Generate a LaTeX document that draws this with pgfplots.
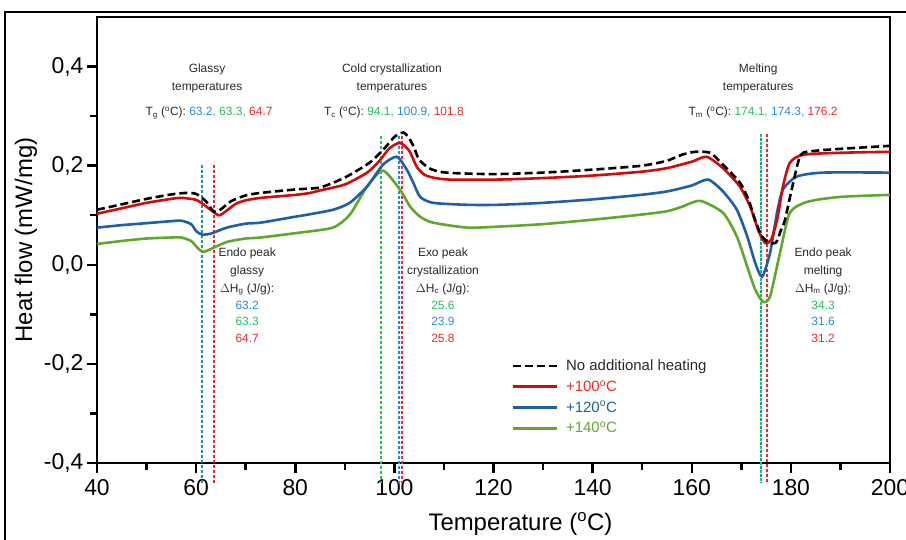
\documentclass[border=0pt]{standalone}
\usepackage{pgfplots}
\pgfplotsset{compat=1.18}
\usepackage{fontspec}
\setmainfont{Liberation Sans}
\definecolor{cRed}{RGB}{210,10,10}
\definecolor{cBlue}{RGB}{30,95,165}
\definecolor{cGreen}{RGB}{95,168,45}
\definecolor{tRed}{RGB}{240,40,40}
\definecolor{tBlue}{RGB}{40,140,220}
\definecolor{tGreen}{RGB}{40,190,95}
\definecolor{tTeal}{RGB}{20,150,175}
\definecolor{tGray}{RGB}{40,40,40}
\newcommand{\ann}{\fontsize{12}{14}\selectfont\color{tGray}}
\begin{document}
\begin{tikzpicture}
\draw[line width=1.3bp] (5bp,-20bp) -- (5bp,528bp) -- (940bp,528bp);
\begin{axis}[
  at={(97bp,77bp)}, anchor=south west,
  scale only axis, width=793bp, height=446bp,
  xmin=40, xmax=200, ymin=-0.4, ymax=0.5,
  axis line style={line width=2.5bp},
  xtick={40,60,...,200}, minor xtick={50,70,...,190},
  ytick={-0.4,-0.2,0,0.2,0.4}, minor ytick={-0.3,-0.1,0.1,0.3},
  tick align=outside, xtick pos=bottom, ytick pos=left,
  major tick length=10bp, minor tick length=7bp,
  every tick/.style={line width=2.5bp, black},
  tick label style={font=\fontsize{23}{23}\selectfont},
  xticklabel style={yshift=-3bp},
  yticklabel style={/pgf/number format/.cd, fixed, fixed zerofill, precision=1, use comma},
  /pgf/number format/assume math mode=true,
  xlabel={Temperature (\textsuperscript{o}C)}, ylabel={Heat flow (mW/mg)},
  label style={font=\fontsize{24}{24}\selectfont},
  xlabel style={at={(ticklabel cs:0.534)}, anchor=north, yshift=-10bp},
  clip=false,
  legend style={draw=none, fill=none, at={(axis cs:123,-0.183)}, anchor=north west,
    font=\fontsize{15}{15}\selectfont, row sep=4.5bp, cells={anchor=west}},
  legend image code/.code={\draw[#1] (0bp,0bp) -- (44bp,0bp); \path (50bp,0bp);},
]
% vertical markers
\addplot[tTeal, line width=1.4bp, dash pattern=on 3bp off 2bp, forget plot] coordinates {(61.2,0.202) (61.2,-0.44)};
\addplot[tRed, line width=1.4bp, dash pattern=on 3bp off 2bp, forget plot] coordinates {(63.6,0.202) (63.6,-0.44)};
\addplot[tGreen, line width=1.4bp, dash pattern=on 3bp off 2bp, forget plot] coordinates {(97.3,0.26) (97.3,-0.44)};
\addplot[tBlue, line width=1.4bp, dash pattern=on 3bp off 2bp, forget plot] coordinates {(100.9,0.26) (100.9,-0.44)};
\addplot[tRed, line width=1.4bp, dash pattern=on 3bp off 2bp, forget plot] coordinates {(101.5,0.26) (101.5,-0.44)};
\addplot[tGreen, line width=1.4bp, dash pattern=on 3bp off 5bp, forget plot] coordinates {(174.0,0.263) (174.0,-0.44)};
\addplot[tTeal, line width=1.4bp, dash pattern=on 3bp off 5bp, dash phase=4bp, forget plot] coordinates {(174.0,0.263) (174.0,-0.44)};
\addplot[tRed, line width=1.4bp, dash pattern=on 3bp off 2bp, forget plot] coordinates {(175.2,0.263) (175.2,-0.44)};
% curves
\addplot[cGreen, line width=2.6bp, smooth, tension=0.4, forget plot] coordinates {
(40,0.042) (45,0.048) (50,0.053) (55,0.055) (57,0.055) (59,0.048) (60.3,0.034) (61.4,0.026)
(63,0.032) (66.2,0.046) (70,0.053) (73,0.055) (81,0.065) (87.6,0.075) (91,0.101) (94.5,0.158)
(97.7,0.190) (101.1,0.152) (103.2,0.117) (105.2,0.097) (107.8,0.085) (114.7,0.075) (121,0.077)
(130,0.082) (140,0.091) (149.6,0.101) (155,0.108) (158,0.117) (161.7,0.129) (166.3,0.105)
(169.1,0.057) (171.2,-0.004) (172.8,-0.050) (174.4,-0.075) (175.8,-0.064) (177.8,0.024)
(179.8,0.105) (183.3,0.127) (190,0.137) (200,0.141)};
\addplot[cBlue, line width=2.6bp, smooth, tension=0.4, forget plot] coordinates {
(40,0.075) (45,0.080) (50,0.084) (55,0.088) (57,0.089) (59,0.082) (60,0.068) (61.2,0.061)
(63,0.063) (66.2,0.075) (70,0.083) (73,0.085) (80,0.097) (82.4,0.101) (87.6,0.111) (91,0.125)
(94.5,0.158) (97.7,0.202) (100.5,0.218) (102.5,0.192) (103.8,0.166) (105.2,0.137) (107.8,0.125)
(114.7,0.121) (121,0.121) (130,0.125) (140,0.132) (149.6,0.141) (155,0.148) (160,0.160)
(163.3,0.172) (166.3,0.148) (169.1,0.111) (171.2,0.057) (172.8,0.004) (174.2,-0.024)
(175.8,0.024) (177.2,0.105) (178.4,0.152) (181.2,0.178) (186.5,0.186) (200,0.186)};
\addplot[cRed, line width=2.6bp, smooth, tension=0.4, forget plot] coordinates {
(40,0.103) (45,0.114) (50,0.125) (55,0.133) (57,0.135) (60,0.131) (62,0.118) (64.5,0.100)
(66,0.108) (68,0.123) (70,0.130) (73,0.135) (80,0.141) (83,0.145) (85,0.150) (90,0.162)
(94.5,0.186) (97,0.210) (99,0.235) (101.1,0.246) (103,0.230) (104.5,0.198) (106,0.182)
(107.8,0.176) (111,0.172) (121,0.172) (130,0.175) (140,0.180) (150,0.188) (155,0.195)
(160,0.208) (163,0.218) (166.3,0.195) (169.7,0.158) (171.8,0.117) (173.4,0.070) (174.8,0.044)
(176,0.050) (177.2,0.090) (178.4,0.158) (179.8,0.206) (182.5,0.222) (190,0.226) (200,0.228)};
\addplot[black, line width=2.6bp, dash pattern=on 8bp off 4bp, smooth, tension=0.4, forget plot] coordinates {
(40,0.111) (45,0.122) (50,0.133) (55,0.142) (58,0.145) (60,0.143) (62,0.128) (63.5,0.108)
(65,0.112) (67,0.128) (70,0.140) (73,0.145) (80,0.152) (85,0.156) (90,0.176) (95,0.206)
(98,0.235) (100,0.258) (101.8,0.267) (103,0.255) (104,0.236) (105,0.212) (107,0.195)
(109,0.188) (112,0.185) (120,0.183) (130,0.186) (140,0.192) (150,0.200) (155,0.210)
(158,0.222) (160.7,0.228) (163.7,0.226) (166,0.205) (169.7,0.166) (171.5,0.130) (172.8,0.090)
(174,0.060) (175.5,0.045) (177,0.045) (178,0.070) (178.8,0.090) (180.3,0.158) (182,0.222)
(185,0.230) (190,0.234) (200,0.240)};
\addlegendimage{black, line width=2.6bp, dash pattern=on 8bp off 4bp}
\addlegendentry{\color{tGray}No additional heating}
\addlegendimage{cRed, line width=2.6bp}
\addlegendentry{\color{tRed}+100\textsuperscript{o}C}
\addlegendimage{cBlue, line width=2.6bp}
\addlegendentry{\color{cBlue}+120\textsuperscript{o}C}
\addlegendimage{cGreen, line width=2.6bp}
\addlegendentry{\color{cGreen}+140\textsuperscript{o}C}
% annotations top
\node[anchor=base, font=\ann] at (axis cs:62.2,0.389) {Glassy};
\node[anchor=base, font=\ann] at (axis cs:62.2,0.351) {temperatures};
\node[anchor=base, font=\ann] at (axis cs:62.6,0.301) {T\textsubscript{g} (\textsuperscript{o}C): \textcolor{tBlue}{63.2,} \textcolor{tGreen}{63.3,} \textcolor{tRed}{64.7}};
\node[anchor=base, font=\ann] at (axis cs:99.5,0.389) {Cold crystallization};
\node[anchor=base, font=\ann] at (axis cs:99.5,0.351) {temperatures};
\node[anchor=base, font=\ann] at (axis cs:99.9,0.301) {T\textsubscript{c} (\textsuperscript{o}C): \textcolor{tGreen}{94.1,} \textcolor{tBlue}{100.9,} \textcolor{tRed}{101.8}};
\node[anchor=base, font=\ann] at (axis cs:173.4,0.389) {Melting};
\node[anchor=base, font=\ann] at (axis cs:173.4,0.351) {temperatures};
\node[anchor=base, font=\ann] at (axis cs:174.4,0.301) {T\textsubscript{m} (\textsuperscript{o}C): \textcolor{tGreen}{174.1,} \textcolor{tBlue}{174.3,} \textcolor{tRed}{176.2}};
% endo glassy
\node[anchor=base, font=\ann] at (axis cs:70.3,0.017) {Endo peak};
\node[anchor=base, font=\ann] at (axis cs:70.3,-0.019) {glassy};
\node[anchor=base, font=\ann] at (axis cs:70.3,-0.055) {$\Delta$H\textsubscript{g} (J/g):};
\node[anchor=base, font=\ann, text=tBlue] at (axis cs:70.3,-0.090) {63.2};
\node[anchor=base, font=\ann, text=tGreen] at (axis cs:70.3,-0.123) {63.3};
\node[anchor=base, font=\ann, text=tRed] at (axis cs:70.3,-0.156) {64.7};
% exo
\node[anchor=base, font=\ann] at (axis cs:109.8,0.017) {Exo peak};
\node[anchor=base, font=\ann] at (axis cs:109.8,-0.019) {crystallization};
\node[anchor=base, font=\ann] at (axis cs:109.8,-0.055) {$\Delta$H\textsubscript{c} (J/g):};
\node[anchor=base, font=\ann, text=tGreen] at (axis cs:109.8,-0.090) {25.6};
\node[anchor=base, font=\ann, text=tBlue] at (axis cs:109.8,-0.123) {23.9};
\node[anchor=base, font=\ann, text=tRed] at (axis cs:109.8,-0.156) {25.8};
% melting
\node[anchor=base, font=\ann] at (axis cs:186.5,0.017) {Endo peak};
\node[anchor=base, font=\ann] at (axis cs:186.5,-0.019) {melting};
\node[anchor=base, font=\ann] at (axis cs:186.5,-0.055) {$\Delta$H\textsubscript{m} (J/g):};
\node[anchor=base, font=\ann, text=tGreen] at (axis cs:186.5,-0.090) {34.3};
\node[anchor=base, font=\ann, text=tBlue] at (axis cs:186.5,-0.123) {31.6};
\node[anchor=base, font=\ann, text=tRed] at (axis cs:186.5,-0.156) {31.2};
\end{axis}
\pgfresetboundingbox
\useasboundingbox (0bp,0bp) rectangle (906bp,540bp);
\end{tikzpicture}
\end{document}
